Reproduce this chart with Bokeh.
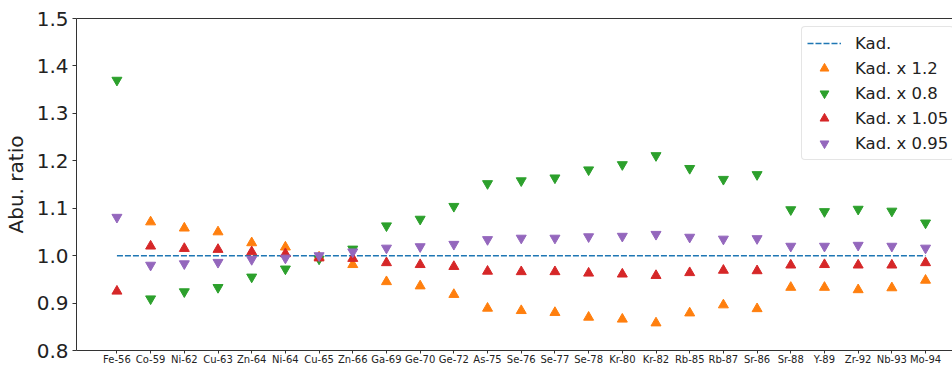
import math
from bokeh.plotting import figure
from bokeh.models import (Range1d, FixedTicker, LinearAxis, Legend, LegendItem,
                          ColumnDataSource, PrintfTickFormatter)
from bokeh.embed import file_html
from bokeh.resources import INLINE

NAN = float("nan")

isotopes = ["Fe-56", "Co-59", "Ni-62", "Cu-63", "Zn-64", "Ni-64", "Cu-65", "Zn-66",
            "Ga-69", "Ge-70", "Ge-72", "As-75", "Se-76", "Se-77", "Se-78", "Kr-80",
            "Kr-82", "Rb-85", "Rb-87", "Sr-86", "Sr-88", "Y-89", "Zr-92", "Nb-93", "Mo-94"]

kad = [1.0] * len(isotopes)

kad_x1_2 = [NAN, 1.071, 1.058, 1.050, 1.027, 1.018, 0.997, 0.981, 0.945, 0.936,
            0.918, 0.889, 0.884, 0.880, 0.870, 0.866, 0.858, 0.879, 0.896, 0.888,
            0.933, 0.933, 0.928, 0.932, 0.948]

kad_x0_8 = [1.370, 0.909, 0.924, 0.933, 0.955, 0.972, 0.993, 1.014, 1.063, 1.077,
            1.104, 1.152, 1.158, 1.164, 1.181, 1.192, 1.211, 1.184, 1.161, 1.171,
            1.097, 1.093, 1.098, 1.094, 1.069]

kad_x1_05 = [0.925, 1.020, 1.015, 1.013, 1.008, 1.004, 0.995, 0.994, 0.985, 0.981,
             0.977, 0.967, 0.966, 0.966, 0.963, 0.961, 0.958, 0.964, 0.969, 0.968,
             0.980, 0.981, 0.980, 0.980, 0.985]

kad_x0_95 = [1.081, 0.980, 0.983, 0.986, 0.992, 0.995, 1.000, 1.008, 1.016, 1.019,
             1.024, 1.034, 1.037, 1.037, 1.040, 1.041, 1.045, 1.039, 1.035, 1.036,
             1.020, 1.020, 1.022, 1.020, 1.016]

y_ticks = [0.8, 0.9, 1.0, 1.1, 1.2, 1.3, 1.4, 1.5]

FONT = "DejaVu Sans"
AXC = "#333333"

xs = list(range(len(isotopes)))
src = ColumnDataSource(dict(x=xs, kad=kad, a=kad_x1_2, b=kad_x0_8, c=kad_x1_05, d=kad_x0_95))

p = figure(width=952, height=367, x_range=Range1d(-1.2, 24.8), y_range=Range1d(0.8, 1.5),
           output_backend="svg", toolbar_location=None,
           min_border_left=75, min_border_right=0, min_border_top=18, min_border_bottom=16)
p.xgrid.visible = False
p.ygrid.visible = False
p.outline_line_color = None
p.background_fill_color = "white"
p.border_fill_color = "white"

r0 = p.line("x", "kad", source=src, line_color="#1f77b4", line_width=1.5, line_dash="6 2")
r1 = p.scatter("x", "a", source=src, marker="triangle", size=10, fill_color="#ff7f0e",
               line_color="#ff7f0e", line_width=1)
r2 = p.scatter("x", "b", source=src, marker="inverted_triangle", size=10, fill_color="#2ca02c",
               line_color="#2ca02c", line_width=1)
r3 = p.scatter("x", "c", source=src, marker="triangle", size=10, fill_color="#d62728",
               line_color="#d62728", line_width=1)
r4 = p.scatter("x", "d", source=src, marker="inverted_triangle", size=10, fill_color="#9467bd",
               line_color="#9467bd", line_width=1)

# x axis
xa = p.xaxis[0]
xa.ticker = FixedTicker(ticks=xs)
xa.major_label_overrides = {i: n for i, n in enumerate(isotopes)}
xa.major_label_text_font = FONT
xa.major_label_text_font_size = "10px"
xa.major_label_text_color = "#222222"
xa.major_tick_out = 3
xa.major_tick_in = 0
xa.minor_tick_line_color = None
xa.major_label_standoff = 0
xa.axis_line_color = AXC
xa.major_tick_line_color = AXC

# y axis
ya = p.yaxis[0]
ya.ticker = FixedTicker(ticks=y_ticks)
ya.formatter = PrintfTickFormatter(format="%.1f")
ya.major_label_text_font = FONT
ya.major_label_text_font_size = "20px"
ya.major_label_text_color = "#222222"
ya.major_tick_out = 4
ya.major_tick_in = 0
ya.minor_tick_line_color = None
ya.major_label_standoff = 4
ya.axis_line_color = AXC
ya.major_tick_line_color = AXC
ya.axis_label = "Abu. ratio"
ya.axis_label_text_font = FONT
ya.axis_label_text_font_size = "20px"
ya.axis_label_text_font_style = "normal"
ya.axis_label_text_color = "#222222"
ya.axis_label_standoff = 6

# top spine
top = LinearAxis(ticker=FixedTicker(ticks=[]), major_tick_line_color=None,
                 minor_tick_line_color=None, major_label_text_font_size="0px",
                 axis_line_color=AXC, major_label_standoff=0)
p.add_layout(top, "above")

legend = Legend(items=[
    LegendItem(label="Kad.", renderers=[r0]),
    LegendItem(label="Kad. x 1.2", renderers=[r1]),
    LegendItem(label="Kad. x 0.8", renderers=[r2]),
    LegendItem(label="Kad. x 1.05", renderers=[r3]),
    LegendItem(label="Kad. x 0.95", renderers=[r4]),
], location=(725, 190))
legend.label_text_font = FONT
legend.label_text_font_size = "16.5px"
legend.label_text_color = "#222222"
legend.glyph_width = 34
legend.glyph_height = 22
legend.label_height = 22
legend.spacing = 3
legend.padding = 5
legend.margin = 0
legend.label_standoff = 14
legend.border_line_color = "#cccccc"
legend.border_line_width = 1
legend.background_fill_color = "white"
legend.background_fill_alpha = 0.8
legend.border_radius = 4
p.add_layout(legend)

open("out.html", "w").write(file_html(p, INLINE))
